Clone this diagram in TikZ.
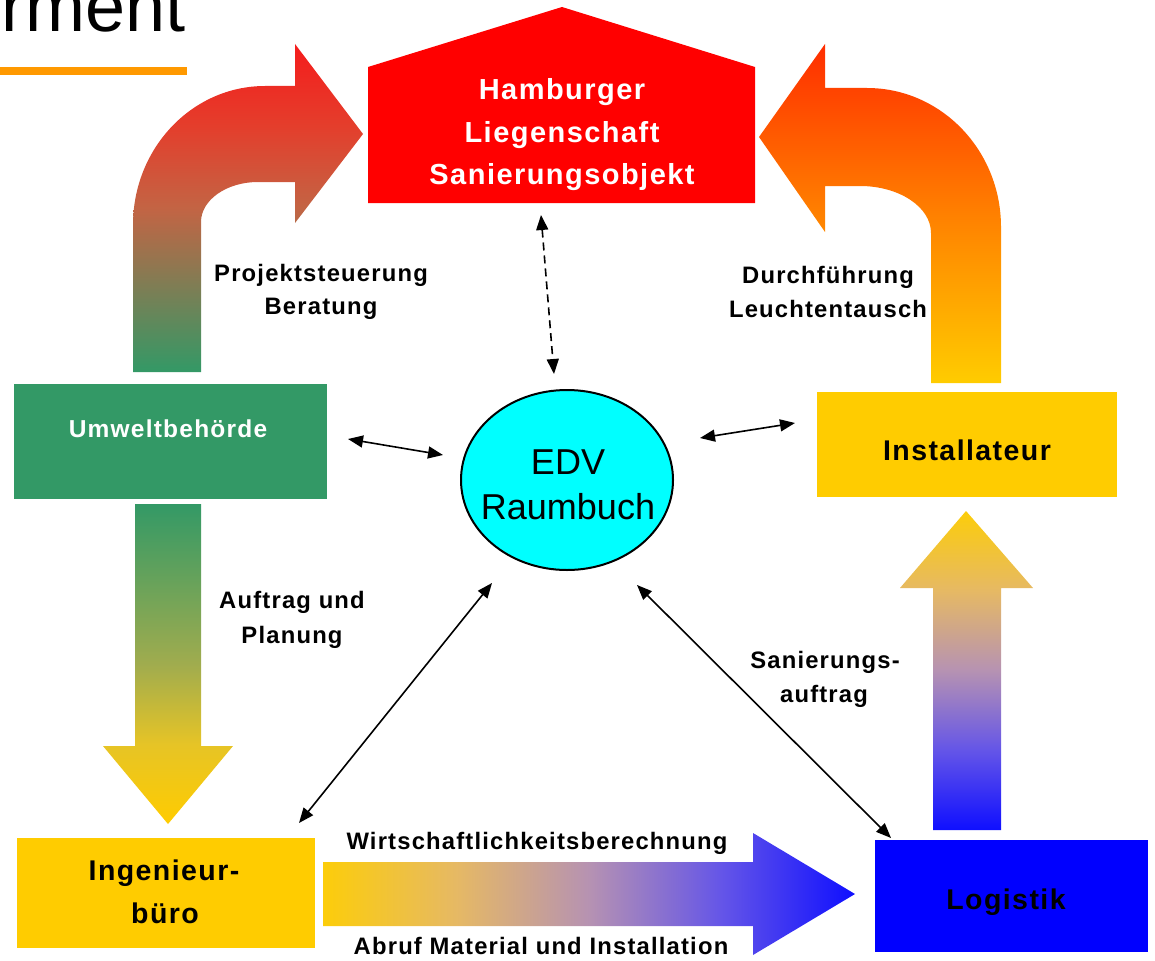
\documentclass[tikz,border=0pt]{standalone}
\usepackage{fontspec}
\setmainfont{Liberation Sans}
\newfontfamily\spacedfont[LetterSpace=5]{Liberation Sans Bold}
\usetikzlibrary{arrows.meta,shapes.geometric}
\definecolor{cGreen}{RGB}{51,153,102}
\definecolor{cYellow}{RGB}{255,204,0}
\definecolor{cBlue}{RGB}{0,0,255}
\definecolor{cHouse}{RGB}{255,0,0}
\definecolor{cCyan}{RGB}{0,255,255}
\definecolor{cOrange}{RGB}{255,153,0}
\definecolor{cLRed}{RGB}{245,28,28}
\definecolor{cLRed2}{RGB}{228,62,44}
\definecolor{cLMid}{RGB}{195,100,68}
\definecolor{cRTop}{RGB}{255,45,0}
\definecolor{cRBot}{RGB}{255,204,0}
\definecolor{cRMid}{RGB}{255,128,0}
\definecolor{cDMid}{RGB}{160,172,78}
\definecolor{cDLow}{RGB}{230,196,38}
\definecolor{bA}{RGB}{15,15,255}
\definecolor{bB}{RGB}{100,85,232}
\definecolor{bC}{RGB}{182,146,178}
\definecolor{bD}{RGB}{230,185,100}
\definecolor{bE}{RGB}{252,205,10}
\pgfdeclareverticalshading{lcurve}{100bp}{color(0bp)=(cGreen); color(25bp)=(cGreen); color(50bp)=(cLMid); color(62.5bp)=(cLRed2); color(75bp)=(cLRed); color(100bp)=(cLRed)}
\pgfdeclareverticalshading{rcurve}{100bp}{color(0bp)=(cRBot); color(25bp)=(cRBot); color(50bp)=(cRMid); color(75bp)=(cRTop); color(100bp)=(cRTop)}
\pgfdeclareverticalshading{downarr}{100bp}{color(0bp)=(cYellow); color(25bp)=(cYellow); color(37.5bp)=(cDLow); color(50bp)=(cDMid); color(75bp)=(cGreen); color(100bp)=(cGreen)}
\pgfdeclareverticalshading{uparr}{100bp}{color(0bp)=(bA); color(25bp)=(bA); color(37.5bp)=(bB); color(50bp)=(bC); color(62.5bp)=(bD); color(75bp)=(bE); color(100bp)=(bE)}
\pgfdeclarehorizontalshading{rightarr}{100bp}{color(0bp)=(bE); color(25bp)=(bE); color(37.5bp)=(bD); color(50bp)=(bC); color(62.5bp)=(bB); color(75bp)=(bA); color(100bp)=(bA)}
\tikzset{
  lbl/.style={font=\spacedfont\fontsize{23.8}{26}\selectfont, inner sep=0pt, anchor=base},
  hlbl/.style={font=\spacedfont\fontsize{29}{32}\selectfont, text=white, inner sep=0pt, anchor=base},
  boxlbl/.style={font=\spacedfont\fontsize{28.5}{31}\selectfont, inner sep=0pt, anchor=base},
  edvlbl/.style={font=\fontsize{36}{40}\selectfont, inner sep=0pt, anchor=base},
  box/.style={rectangle, inner sep=0pt, draw=none},
  conn/.style={{Triangle[length=15pt,width=12pt]}-{Triangle[length=15pt,width=12pt]}, line width=1.6pt},
}
\begin{document}
\begin{tikzpicture}[x=1pt,y=-1pt]
\useasboundingbox (0,0) rectangle (1155,960);
\clip (0,0) rectangle (1155,960);

% title fragment
\node[font=\fontsize{72}{74}\selectfont, anchor=base east, inner sep=0pt] (title) at (186,32) {rment};
\fill[cOrange] (0,67) rectangle (187,75);

% house
\fill[cHouse] (368,67) -- (562,7) -- (755,67) -- (755,203) -- (368,203) -- cycle;
\node[hlbl] (h1) at (562,100) {Hamburger};
\node[hlbl] (h2) at (562,143) {Liegenschaft};
\node[hlbl] (h3) at (562,184) {Sanierungsobjekt};

% left curved arrow
\shade[shading=lcurve] (133,372) -- (133,225)
  .. controls (133,148.2) and (192.1,86) .. (265,86)
  -- (295,86) -- (295,44) -- (363,134) -- (295,223) -- (295,182)
  -- (258,182) .. controls (226.5,182) and (201,200) .. (201,222)
  -- (201,372) -- cycle;

% right curved arrow
\shade[shading=rcurve] (1001,383) -- (1001,227)
  .. controls (1001,150.2) and (941,88) .. (867,88)
  -- (825,88) -- (825,44) -- (759,137) -- (825,232) -- (825,186)
  -- (860,186) .. controls (899.2,186) and (931,207) .. (931,233)
  -- (931,383) -- cycle;

% down arrow (left)
\shade[shading=downarr] (135,504) -- (201,504) -- (201,746) -- (233,746) -- (168,824) -- (103,746) -- (135,746) -- cycle;
% up arrow (right)
\shade[shading=uparr] (933,830) -- (933,588) -- (900,588) -- (966,511) -- (1033,588) -- (1001,588) -- (1001,830) -- cycle;
% bottom arrow
\shade[shading=rightarr] (323,862) -- (753,862) -- (753,833) -- (855,894) -- (753,955) -- (753,926) -- (323,926) -- cycle;

% boxes
\node[box, fill=cGreen, minimum width=313pt, minimum height=115pt] (umw) at (170.5,441.5) {};
\node[font=\spacedfont\fontsize{24.5}{26}\selectfont, text=white, inner sep=0pt, anchor=base] (umwt) at (168,437) {Umweltbehörde};

\node[box, fill=cYellow, minimum width=300pt, minimum height=105pt] (inst) at (967,444.5) {};
\node[boxlbl] (instt) at (967,460) {Installateur};

\node[box, fill=cYellow, minimum width=298pt, minimum height=110pt] (ing) at (166,893) {};
\node[boxlbl] (ingt1) at (164,880) {Ingenieur-};
\node[boxlbl] (ingt2) at (165,923) {büro};

\node[box, fill=cBlue, minimum width=273pt, minimum height=112pt] (log) at (1011.5,896) {};
\node[boxlbl] (logt) at (1006,909) {Logistik};

% EDV ellipse
\node[ellipse, draw=black, line width=2pt, fill=cCyan, minimum width=212pt, minimum height=180pt, inner sep=0pt] (edv) at (567,480) {};
\node[edvlbl] (edv1) at (568,474) {EDV};
\node[edvlbl] (edv2) at (568,519) {Raumbuch};

% labels
\node[lbl] (p1) at (321,281) {Projektsteuerung};
\node[lbl] (p2) at (321,314) {Beratung};
\node[lbl] (d1) at (828,283) {Durchführung};
\node[lbl] (d2) at (828,317) {Leuchtentausch};
\node[lbl] (a1) at (292,608) {Auftrag und};
\node[lbl] (a2) at (292,643) {Planung};
\node[lbl] (s1) at (825,668) {Sanierungs-};
\node[lbl] (s2) at (824,702) {auftrag};
\node[lbl] (w1) at (537,849) {Wirtschaftlichkeitsberechnung};
\node[lbl] (w2) at (541,954) {Abruf Material und Installation};

% connector end points
\coordinate (cH) at (541,215);
\coordinate (cE1) at (554,374);
\coordinate (cU) at (348,439);
\coordinate (cE2) at (443,455);
\coordinate (cE3) at (700,438);
\coordinate (cI) at (795,423);
\coordinate (cE4) at (492,583);
\coordinate (cG) at (299,823);
\coordinate (cE5) at (637,585);
\coordinate (cL) at (891,838);

\draw[conn, dashed, dash pattern=on 8pt off 5pt] (cH) -- (cE1);
\draw[conn] (cU) -- (cE2);
\draw[conn] (cE3) -- (cI);
\draw[conn] (cE4) -- (cG);
\draw[conn] (cE5) -- (cL);
\end{tikzpicture}
\end{document}
